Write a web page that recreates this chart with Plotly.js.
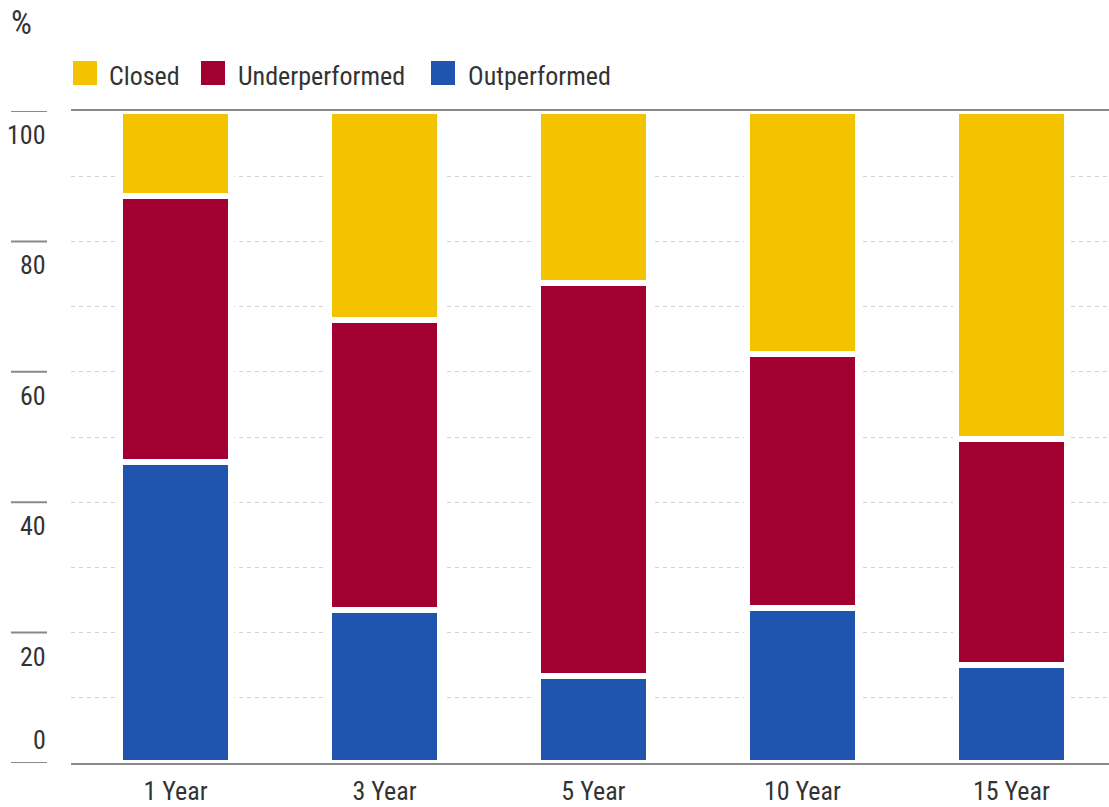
<!DOCTYPE html>
<html><head><meta charset="utf-8">
<script src="https://cdn.plot.ly/plotly-3.0.1.min.js"></script>
<style>html,body{margin:0;padding:0;background:#fff;}#chart{width:1109px;height:807px;}</style>
</head><body><div id="chart"></div>
<script>
const categories = ['1 Year', '3 Year', '5 Year', '10 Year', '15 Year'];
const outperformed = [46.1, 23.5, 13.3, 23.8, 15.0];
const underperformed = [40.9, 44.4, 60.3, 38.9, 34.7];
const closed = [13.0, 32.1, 26.4, 37.3, 50.3];
const seriesNames = ['Closed', 'Underperformed', 'Outperformed'];
const yTickValues = [0, 20, 40, 60, 80, 100];
const yTickLabels = ['0', '20', '40', '60', '80', '100'];
const unitLabel = '%';

const W = 1109, H = 807, L = 71, R = 0, T = 111, B = 44;
const PW = W - L - R, PH = H - T - B;
const px = x => (x - L) / PW;
const py = y => (H - B - y) / PH;
const FONT = '"Liberation Sans Narrow", "Roboto Condensed", "Arial Narrow", "DejaVu Sans Condensed", sans-serif';
const TEXT = '#333333';
const GREY = '#8a8a8a';
const colors = { 'Closed': '#F3C300', 'Underperformed': '#A30032', 'Outperformed': '#1F55AF' };
const seriesData = { 'Closed': closed, 'Underperformed': underperformed, 'Outperformed': outperformed };

const stackOrder = ['Outperformed', 'Underperformed', 'Closed'];
const traces = stackOrder.map(name => ({
  type: 'bar',
  name: name,
  x: categories,
  y: seriesData[name],
  marker: { color: colors[name], line: { color: '#ffffff', width: 6 } },
  showlegend: false,
  hoverinfo: 'x+y+name'
}));

const shapes = [];
const annotations = [];
yTickValues.forEach((v, i) => {
  shapes.push({ type: 'line', xref: 'paper', yref: 'y', x0: px(11), x1: px(47), y0: v, y1: v,
    line: { color: GREY, width: 2 } });
  annotations.push({ xref: 'paper', yref: 'y', x: px(48), y: v, xanchor: 'right', yanchor: 'middle',
    yshift: v === 0 ? 23 : -24, text: yTickLabels[i], showarrow: false,
    font: { family: FONT, size: 26, color: TEXT } });
});

// manual legend
const swatchX = [73, 201, 431];
const textX = [107, 236, 466];
seriesNames.forEach((name, i) => {
  shapes.push({ type: 'rect', xref: 'paper', yref: 'paper', x0: px(swatchX[i]), x1: px(swatchX[i] + 24),
    y0: py(85), y1: py(61), fillcolor: colors[name], line: { width: 0 } });
  annotations.push({ xref: 'paper', yref: 'paper', x: px(textX[i]), y: py(76), xanchor: 'left', yanchor: 'middle',
    text: name, showarrow: false, font: { family: FONT, size: 26, color: TEXT } });
});

annotations.push({ xref: 'paper', yref: 'paper', x: px(9), y: py(22), xanchor: 'left', yanchor: 'middle',
  text: unitLabel, showarrow: false, font: { family: FONT, size: 33, color: TEXT } });

const layout = {
  width: W, height: H,
  margin: { l: L, r: R, t: T, b: B, pad: 0 },
  paper_bgcolor: '#ffffff', plot_bgcolor: '#ffffff',
  barmode: 'stack',
  bargap: 0.472,
  showlegend: false,
  font: { family: FONT, color: TEXT },
  xaxis: {
    type: 'category', range: [-0.5, 4.467], fixedrange: true,
    showline: true, mirror: true, linecolor: GREY, linewidth: 2,
    showgrid: false, zeroline: false, ticks: '',
    tickfont: { family: FONT, size: 26, color: TEXT }, ticklabelstandoff: 4
  },
  yaxis: {
    range: [0, 100], dtick: 10, tick0: 0, fixedrange: true,
    showgrid: true, gridcolor: '#d4d4d4', gridwidth: 1, griddash: '4px,4px',
    showticklabels: false, zeroline: false, showline: false, ticks: ''
  },
  shapes: shapes,
  annotations: annotations
};

Plotly.newPlot('chart', traces, layout, { displayModeBar: false, staticPlot: true });
</script>
</body></html>
